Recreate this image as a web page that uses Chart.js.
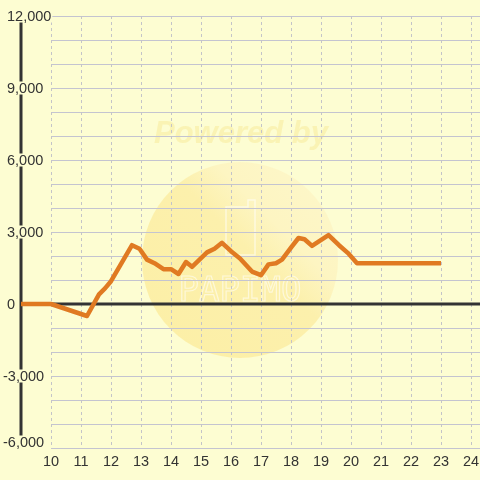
<!DOCTYPE html>
<html>
<head>
<meta charset="utf-8">
<script src="https://cdn.jsdelivr.net/npm/chart.js@4"></script>
<style>
  html, body { margin: 0; padding: 0; background: #fdfdd2; }
  canvas { display: block; }
</style>
</head>
<body>
<canvas id="chart" width="480" height="480"></canvas>
<script>
// ----- Data -----
const xPoints = [9, 10, 11.2, 11.6, 11.8, 12.0, 12.7, 12.95, 13.2, 13.45, 13.75, 14.0, 14.25, 14.5, 14.7,
  15.2, 15.45, 15.7, 16.0, 16.3, 16.7, 17.0, 17.25, 17.5, 17.7, 18.0, 18.25, 18.45, 18.7, 19.25,
  19.6, 19.9, 20.2, 23.0];
const yPoints = [0, 0, -500, 400, 650, 950, 2450, 2300, 1850, 1700, 1450, 1450, 1250, 1750, 1550,
  2150, 2300, 2550, 2200, 1900, 1350, 1200, 1650, 1700, 1850, 2350, 2750, 2700, 2420, 2870,
  2450, 2120, 1700, 1700];
const xTicks = [10, 11, 12, 13, 14, 15, 16, 17, 18, 19, 20, 21, 22, 23, 24];
const yLabelTicks = [12000, 9000, 6000, 3000, 0, -3000, -6000];
const yGridTicks = [12000, 11000, 10000, 9000, 8000, 7000, 6000, 5000, 4000, 3000, 2000, 1000,
  0, -1000, -2000, -3000, -4000, -5000, -6000];

const BG = "#fdfdd2";
const TEXT = "#333333";
const FONT = "14.5px 'Liberation Sans', Arial, sans-serif";

// ----- Watermark + grid + axes plugin -----
const backdropPlugin = {
  id: "backdrop",
  beforeDatasetsDraw(chart) {
    const { ctx, chartArea: { left, right, top, bottom }, scales: { x, y } } = chart;
    ctx.save();

    // watermark circle
    const g = ctx.createLinearGradient(150, 350, 330, 170);
    g.addColorStop(0, "#fcefa6");
    g.addColorStop(0.55, "#fcf0ac");
    g.addColorStop(0.7, "#fdf5c2");
    g.addColorStop(1, "#fdf7ca");
    ctx.fillStyle = g;
    ctx.beginPath();
    ctx.arc(240, 260, 98, 0, Math.PI * 2);
    ctx.fill();

    ctx.font = "bold italic 31px 'Liberation Sans', Arial, sans-serif";
    ctx.fillStyle = "rgba(248,236,160,0.6)";
    ctx.textAlign = "center";
    ctx.textBaseline = "middle";
    ctx.fillText("Powered by", 241, 134);

    ctx.strokeStyle = "rgba(255,255,255,0.55)";
    ctx.lineWidth = 1.5;
    ctx.beginPath();
    ctx.moveTo(226, 207);
    ctx.lineTo(248, 207);
    ctx.lineTo(248, 200);
    ctx.lineTo(255, 200);
    ctx.lineTo(255, 255);
    ctx.lineTo(226, 255);
    ctx.closePath();
    ctx.stroke();
    ctx.font = "34px 'DejaVu Sans Mono', monospace";
    ctx.textBaseline = "alphabetic";
    ctx.lineWidth = 1.2;
    ctx.strokeText("PAPIMO", 240, 301);

    // horizontal grid
    const gx0 = x.getPixelForValue(10);
    ctx.strokeStyle = "#c4c4d0";
    ctx.lineWidth = 1.2;
    yGridTicks.forEach((v) => {
      const py = Math.round(y.getPixelForValue(v)) + 0.5;
      ctx.beginPath();
      ctx.moveTo(gx0, py);
      ctx.lineTo(right, py);
      ctx.stroke();
    });

    // vertical dashed grid
    ctx.strokeStyle = "#c4c4c8";
    ctx.lineWidth = 1;
    ctx.setLineDash([3, 3]);
    xTicks.forEach((v) => {
      const px = Math.round(x.getPixelForValue(v)) + 0.5;
      ctx.beginPath();
      ctx.moveTo(px, top);
      ctx.lineTo(px, bottom - 2);
      ctx.stroke();
    });
    ctx.setLineDash([]);

    // zero line
    ctx.strokeStyle = "#333";
    ctx.lineWidth = 3;
    const zy = y.getPixelForValue(0);
    ctx.beginPath();
    ctx.moveTo(left, zy);
    ctx.lineTo(right, zy);
    ctx.stroke();

    // y axis line
    ctx.beginPath();
    ctx.moveTo(left, top);
    ctx.lineTo(left, bottom);
    ctx.stroke();

    // y labels with background boxes
    ctx.font = FONT;
    ctx.textAlign = "left";
    ctx.textBaseline = "middle";
    yLabelTicks.forEach((v) => {
      const py = Math.min(y.getPixelForValue(v), bottom - 6);
      const txt = v.toLocaleString("en-US");
      const tx = v < 0 ? 3 : 7;
      const w = ctx.measureText(txt).width;
      ctx.fillStyle = BG;
      ctx.fillRect(tx - 1, py - 6.5, w + 2, 13);
      ctx.fillStyle = TEXT;
      ctx.fillText(txt, tx, py + 1);
    });

    // x labels
    ctx.textAlign = "center";
    xTicks.forEach((v) => {
      ctx.fillText(String(v), x.getPixelForValue(v), 462);
    });

    ctx.restore();
  }
};

// ----- Chart -----
const chart = new Chart(document.getElementById("chart").getContext("2d"), {
  type: "line",
  data: {
    datasets: [
      {
        data: xPoints.map((v, i) => ({ x: v, y: yPoints[i] })),
        borderColor: "#e07a22",
        borderWidth: 4.5,
        pointRadius: 0,
        tension: 0,
        fill: false,
        borderJoinStyle: "round",
        borderCapStyle: "butt"
      }
    ]
  },
  options: {
    responsive: false,
    animation: false,
    layout: { padding: { left: 21, top: 16, right: 0, bottom: 32 } },
    plugins: { legend: { display: false }, tooltip: { enabled: false } },
    scales: {
      x: { type: "linear", min: 9, max: 24.3, display: false },
      y: { min: -6000, max: 12000, display: false }
    }
  },
  plugins: [backdropPlugin]
});
</script>
</body>
</html>
